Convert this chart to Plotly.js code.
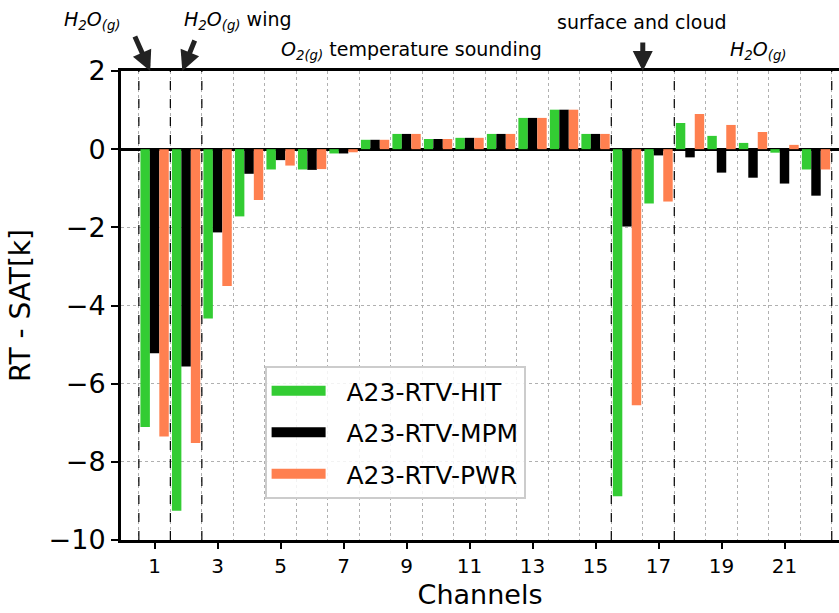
<!DOCTYPE html>
<html>
<head>
<meta charset="utf-8">
<script src="https://cdn.plot.ly/plotly-3.0.1.min.js"></script>
<style>html,body{margin:0;padding:0;background:#fff;}#chart{width:839px;height:613px;}</style>
</head>
<body>
<div id="chart"></div>
<script>
const channels = [1,2,3,4,5,6,7,8,9,10,11,12,13,14,15,16,17,18,19,20,21,22];
const hit = [-7.11,-9.25,-4.33,-1.72,-0.52,-0.52,-0.11,0.24,0.39,0.26,0.29,0.39,0.80,1.01,0.39,-8.88,-1.39,0.67,0.34,0.16,-0.09,-0.52];
const mpm = [-5.22,-5.56,-2.13,-0.63,-0.28,-0.53,-0.11,0.24,0.39,0.26,0.29,0.39,0.80,1.01,0.39,-1.98,-0.16,-0.21,-0.60,-0.73,-0.88,-1.19];
const pwr = [-7.35,-7.52,-3.50,-1.30,-0.42,-0.51,-0.08,0.24,0.39,0.26,0.29,0.39,0.80,1.01,0.39,-6.55,-1.34,0.90,0.62,0.44,0.11,-0.52];
const seriesNames = ['A23-RTV-HIT','A23-RTV-MPM','A23-RTV-PWR'];
const seriesColors = ['#33cc33','#000000','#ff8050'];
const tickVals = [1,3,5,7,9,11,13,15,17,19,21];
const separators = [0.5,1.5,2.5,15.5,17.5,22.5];

const FONT = 'DejaVu Sans, sans-serif';
const series = [hit, mpm, pwr];
const traces = [];
series.forEach((vals, i) => {
  traces.push({type:'bar', x:channels, y:vals, name:seriesNames[i],
    marker:{color:seriesColors[i], line:{width:0}}, showlegend:false, legendgroup:'g'+i});
});
series.forEach((vals, i) => {
  traces.push({type:'scatter', mode:'lines', x:[null], y:[null], name:'&nbsp;&nbsp;' + seriesNames[i],
    line:{color:seriesColors[i], width:19}, legendgroup:'g'+i, showlegend:true, hoverinfo:'skip'});
});

const shapes = separators.map(s => ({type:'line', xref:'x', yref:'paper', x0:s, x1:s, y0:0, y1:1,
  line:{color:'#000', width:1.2, dash:'dash'}}));

const annFont = {family:FONT, size:19, color:'#000'};
const annotations = [
  {xref:'paper', yref:'paper', x:(92-121)/718, y:(540-20)/469, text:'<i>H<sub>2</sub>O<sub>(g)</sub></i>', showarrow:false, font:annFont, xanchor:'center', yanchor:'middle'},
  {xref:'paper', yref:'paper', x:(238-121)/718, y:(540-20)/469, text:'<i>H<sub>2</sub>O<sub>(g)</sub></i> wing', showarrow:false, font:annFont, xanchor:'center', yanchor:'middle'},
  {xref:'paper', yref:'paper', x:(411-121)/718, y:(540-50)/469, text:'<i>O<sub>2(g)</sub></i> temperature sounding', showarrow:false, font:annFont, xanchor:'center', yanchor:'middle'},
  {xref:'paper', yref:'paper', x:(642-121)/718, y:(540-22)/469, text:'surface and cloud', showarrow:false, font:annFont, xanchor:'center', yanchor:'middle'},
  {xref:'paper', yref:'paper', x:(758-121)/718, y:(540-50)/469, text:'<i>H<sub>2</sub>O<sub>(g)</sub></i>', showarrow:false, font:annFont, xanchor:'center', yanchor:'middle'},
  {xref:'x', yref:'paper', x:0.86, y:1.0, text:'', showarrow:true, ax:-16, ay:-36, arrowhead:2, arrowsize:0.8, arrowwidth:5, arrowcolor:'#222'},
  {xref:'x', yref:'paper', x:1.88, y:1.0, text:'', showarrow:true, ax:13, ay:-32, arrowhead:2, arrowsize:0.8, arrowwidth:5, arrowcolor:'#222'},
  {xref:'x', yref:'paper', x:16.5, y:1.0, text:'', showarrow:true, ax:0, ay:-30, arrowhead:2, arrowsize:0.8, arrowwidth:5, arrowcolor:'#222'}
];

const layout = {
  width:839, height:613,
  margin:{l:121, r:0, t:71, b:73},
  paper_bgcolor:'#fff', plot_bgcolor:'#fff',
  font:{family:FONT, color:'#000'},
  barmode:'group', bargap:0.1, bargroupgap:0,
  xaxis:{range:[-0.067, 22.73], tickvals:tickVals, ticktext:tickVals.map(String),
    showgrid:false, zeroline:false, showline:true, mirror:true, linecolor:'#000', linewidth:3,
    ticks:'outside', ticklen:6, tickwidth:2, tickcolor:'#000',
    tickfont:{family:FONT, size:20, color:'#000'},
    minor:{tick0:0.5, dtick:1, showgrid:true, griddash:'dot', gridcolor:'#b0b0b0', gridwidth:1, ticks:''},
    title:{text:'Channels', font:{family:FONT, size:27, color:'#000'}, standoff:9}},
  yaxis:{range:[-10, 2], dtick:2, tick0:0,
    showgrid:true, griddash:'dot', gridcolor:'#b0b0b0', gridwidth:1,
    zeroline:true, zerolinecolor:'#000', zerolinewidth:3,
    showline:true, mirror:false, linecolor:'#000', linewidth:3,
    ticks:'outside', ticklen:7, tickwidth:2, tickcolor:'#000',
    tickfont:{family:FONT, size:27, color:'#000'},
    title:{text:'RT - SAT[k]', font:{family:FONT, size:28, color:'#000'}, standoff:10}},
  legend:{x:0.2, y:0.371, xanchor:'left', yanchor:'top',
    bgcolor:'rgba(255,255,255,0.85)', bordercolor:'#cccccc', borderwidth:2,
    itemwidth:54,
    font:{family:FONT, size:25, color:'#000'}, traceorder:'grouped', tracegroupgap:6},
  shapes:shapes,
  annotations:annotations
};

Plotly.newPlot('chart', traces, layout, {displayModeBar:false, staticPlot:true});
</script>
</body>
</html>
